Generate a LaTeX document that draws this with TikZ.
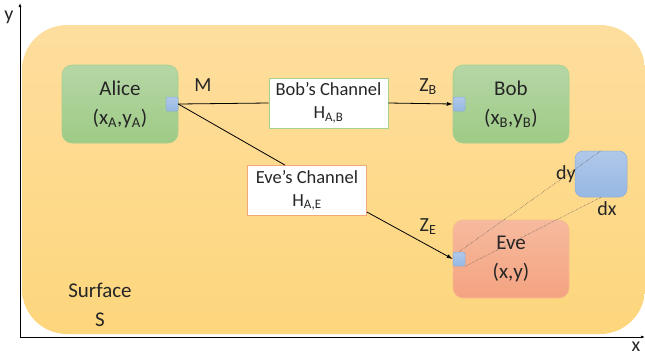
\documentclass[tikz,border=0pt]{standalone}
\usepackage{fontspec}
\setmainfont{Carlito}
\usetikzlibrary{arrows.meta}
\begin{document}
\begin{tikzpicture}[x=1pt,y=-1pt,
  party/.style={rounded corners=10pt, minimum width=116pt, minimum height=78pt,
    inner sep=0pt, align=center, font=\fontsize{21}{29}\selectfont, text=black!85, line width=0.6pt},
  greenparty/.style={party,
    top color={rgb,255:red,181;green,214;blue,166}, bottom color={rgb,255:red,158;green,203;blue,133},
    draw={rgb,255:red,166;green,207;blue,144}},
  redparty/.style={party,
    top color={rgb,255:red,246;green,186;blue,158}, bottom color={rgb,255:red,244;green,163;blue,128},
    draw={rgb,255:red,248;green,186;blue,140}},
  chan/.style={fill=white, minimum width=119pt, minimum height=50pt, inner sep=0pt,
    align=center, font=\fontsize{18.5}{23}\selectfont, text=black!85, line width=0.8pt},
  port/.style={rounded corners=1.5pt, minimum width=12pt, minimum height=14pt, inner sep=0pt,
    top color={rgb,255:red,176;green,200;blue,234}, bottom color={rgb,255:red,150;green,184;blue,226},
    draw={rgb,255:red,140;green,172;blue,215}, line width=0.5pt},
  lbl/.style={font=\fontsize{20}{24}\selectfont, text=black!85, inner sep=0pt},
  link/.style={line width=0.8pt, black},
  tip/.style={-{Latex[length=6pt,width=4pt]}},
  guide/.style={line width=0.5pt, densely dotted, black!65}]
\useasboundingbox (0,0) rectangle (645,360);

% surface
\shade[top color={rgb,255:red,254;green,222;blue,158}, bottom color={rgb,255:red,253;green,214;blue,124},
  rounded corners=45pt] (22,25) rectangle (645,334);
\node[lbl, align=center, font=\fontsize{21}{29}\selectfont] (surf) at (100,305) {Surface\\S};

% axes
\coordinate (o) at (20,337);
\coordinate (ytop) at (20,3);
\coordinate (xend) at (645,337);
\draw[line width=1pt, -{Latex[length=4pt,width=3pt]}] (o) -- (ytop);
\draw[line width=1pt, -{Latex[length=4pt,width=3pt]}] (o) -- (xend);
\node[lbl] (ylab) at (9,17) {y};
\node[lbl] (xlab) at (636,347) {x};

% parties
\node[greenparty] (alice) at (120,104) {Alice\\(x\textsubscript{A},y\textsubscript{A})};
\node[greenparty] (bob) at (511,104) {Bob\\(x\textsubscript{B},y\textsubscript{B})};
\node[redparty] (eve) at (511,259) {Eve\\(x,y)};

% ports
\node[port] (pa) at (172,104) {};
\node[port] (pb) at (459,104) {};
\node[port] (pe) at (459,259) {};

% region element
\node[port, rounded corners=8pt, minimum width=52pt, minimum height=46pt] (cell) at (601,174) {};

% channels
\node[chan, draw={rgb,255:red,169;green,209;blue,142}] (cb) at (328.5,103) {Bob’s Channel\\H\textsubscript{A,B}};
\node[chan, draw={rgb,255:red,244;green,169;blue,122}] (ce) at (307,190.5) {Eve’s Channel\\H\textsubscript{A,E}};

% links
\draw[link] (pa.east) -- (cb.west);
\draw[link, tip] (cb.east) -- (pb.west);
\draw[link] (pa.east) -- (ce.north -| 285,0);
\draw[link, tip] (ce.east |- 0,212) -- (pe.west);

\node[lbl] (m) at (203,85) {M};
\node[lbl] (zb) at (428,87) {Z\textsubscript{B}};
\node[lbl] (ze) at (428,227) {Z\textsubscript{E}};

% distance guides
\draw[guide] (pe.north) -- (cell.north);
\draw[guide] (pe.south east) -- (cell.south);
\node[lbl] (dy) at (566,174) {dy};
\node[lbl] (dx) at (607,209) {dx};
\end{tikzpicture}
\end{document}
